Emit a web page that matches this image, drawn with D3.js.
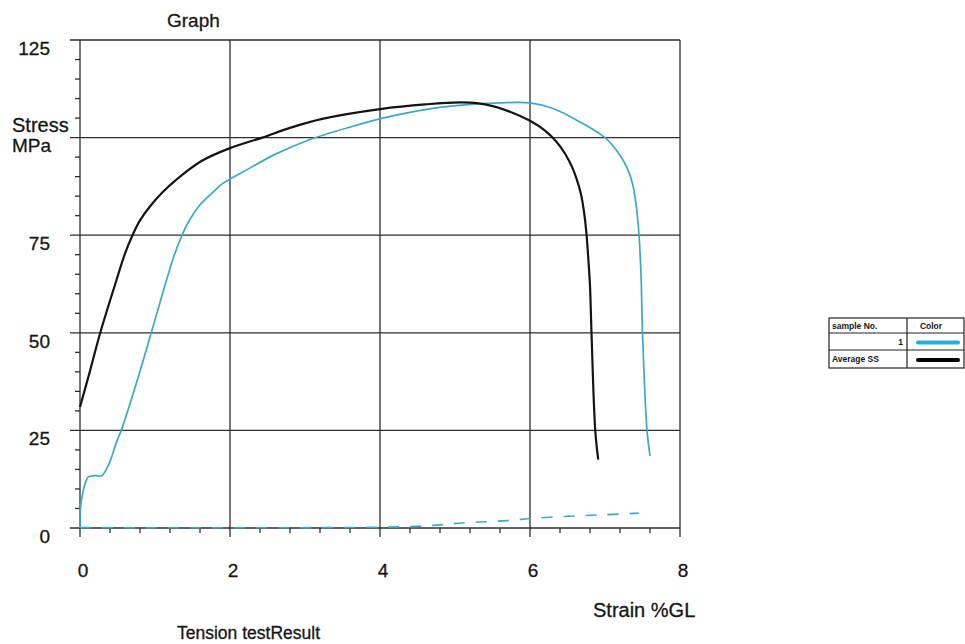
<!DOCTYPE html>
<html>
<head>
<meta charset="utf-8">
<script src="https://cdn.jsdelivr.net/npm/d3@7"></script>
<style>
  html, body { margin: 0; padding: 0; background: #fff; }
  svg { display: block; font-family: "Liberation Sans", Arial, sans-serif; }
</style>
</head>
<body>
<svg id="chart" width="965" height="644"></svg>
<script>
// Stress–strain curves (strain %GL, stress MPa)
const averageSS = [
  [0.00, 31], [0.13, 40], [0.27, 50], [0.47, 62.5], [0.60, 70.3], [0.70, 75],
  [0.80, 78.8], [0.93, 82.3], [1.10, 86], [1.27, 89], [1.62, 94], [2.00, 97.3],
  [2.43, 100], [2.80, 102.5], [3.23, 104.8], [4.00, 107.3], [4.60, 108.5],
  [5.10, 109], [5.40, 108.5], [5.75, 106.5], [6.00, 104.3], [6.20, 101.8],
  [6.35, 99], [6.47, 95.8], [6.56, 92.5], [6.62, 89.5], [6.68, 85.5], [6.72, 81],
  [6.75, 76], [6.77, 71], [6.80, 62], [6.82, 50], [6.87, 25], [6.91, 17.5]
];
const sample1 = [
  [0.00, 0], [0.005, 5], [0.045, 9.7], [0.08, 12], [0.11, 13.1], [0.20, 13.4],
  [0.29, 13.4], [0.35, 15], [0.40, 17], [0.49, 22.2], [0.55, 25], [0.75, 37],
  [0.95, 50], [1.13, 62], [1.25, 69.5], [1.35, 74.5], [1.45, 78.5], [1.58, 82.3],
  [1.75, 85.6], [1.90, 88.2], [2.20, 91.5], [2.60, 95.7], [3.05, 99.4],
  [3.60, 102.7], [4.11, 105.3], [4.82, 107.8], [5.60, 108.9], [6.00, 108.9],
  [6.30, 107.5], [6.60, 104.7], [7.00, 100], [7.20, 95.5], [7.30, 92],
  [7.37, 88], [7.42, 82], [7.45, 76], [7.48, 65], [7.50, 50], [7.56, 25], [7.60, 18.5]
];
const sample1Base = [
  [0.00, 0.1], [4.30, 0.3], [4.80, 0.8], [5.10, 1.3], [5.70, 1.9],
  [6.05, 2.5], [6.50, 3.0], [7.00, 3.4], [7.45, 3.8]
];

const xMajorTicks = [0, 2, 4, 6, 8];
const yMajorTicks = [0, 25, 50, 75, 100, 125];
const yTickLabels = ["0", "25", "50", "75", "", "125"];
const legendRows = [
  { name: "1", color: "#22aee0", align: "end" },
  { name: "Average SS", color: "#000000", align: "start" }
];

const svg = d3.select("#chart");
const x = d3.scaleLinear().domain([0, 8]).range([80, 680]);
const y = d3.scaleLinear().domain([0, 125]).range([528, 40]);

const gridColor = "#2e2e2e";
const textColor = "#161616";

// Major grid
const grid = svg.append("g").attr("stroke", gridColor).attr("stroke-width", 1.3);
grid.selectAll("line.h").data(yMajorTicks).join("line")
  .attr("x1", x(0) - 10).attr("x2", x(8))
  .attr("y1", d => y(d)).attr("y2", d => y(d));
grid.selectAll("line.v").data(xMajorTicks).join("line")
  .attr("x1", d => x(d)).attr("x2", d => x(d))
  .attr("y1", y(125)).attr("y2", y(0) + 9);

// Minor ticks
const yMinor = d3.range(0, 126, 5).filter(v => v % 25 !== 0);
const xMinor = d3.range(0, 8.01, 0.4).map(v => +v.toFixed(1)).filter(v => Math.abs(v / 2 - Math.round(v / 2)) > 1e-6);
grid.selectAll("line.ym").data(yMinor).join("line")
  .attr("x1", x(0) - 5).attr("x2", x(0))
  .attr("y1", d => y(d)).attr("y2", d => y(d));
grid.selectAll("line.xm").data(xMinor).join("line")
  .attr("x1", d => x(d)).attr("x2", d => x(d))
  .attr("y1", y(0)).attr("y2", y(0) + 5);

// Tick labels
svg.append("g").selectAll("text").data(yMajorTicks).join("text")
  .attr("x", x(0) - 30).attr("y", d => y(d) + 15)
  .attr("text-anchor", "end").attr("font-size", 19).attr("fill", textColor)
  .attr("stroke", textColor).attr("stroke-width", 0.3)
  .text((d, i) => yTickLabels[i]);
svg.append("g").selectAll("text").data(xMajorTicks).join("text")
  .attr("x", d => x(d) + 3).attr("y", y(0) + 49)
  .attr("text-anchor", "middle").attr("font-size", 19).attr("fill", textColor)
  .attr("stroke", textColor).attr("stroke-width", 0.3)
  .text(d => d);

// Curves (centripetal Catmull-Rom keeps the near-vertical tails smooth)
const line = d3.line().x(d => x(d[0])).y(d => y(d[1])).curve(d3.curveCatmullRom.alpha(0.5));
svg.append("path").datum(sample1Base)
  .attr("fill", "none").attr("stroke", "#3aa9c9").attr("stroke-width", 1.6)
  .attr("stroke-dasharray", "11,11").attr("d", line);
svg.append("path").datum(sample1)
  .attr("fill", "none").attr("stroke", "#3aa9c9").attr("stroke-width", 1.7).attr("d", line);
svg.append("path").datum(averageSS)
  .attr("fill", "none").attr("stroke", "#141414").attr("stroke-width", 2.2).attr("d", line);

// Titles
const titles = svg.append("g").attr("fill", textColor).attr("stroke", textColor).attr("stroke-width", 0.3);
titles.append("text").attr("x", 167).attr("y", 27).attr("font-size", 19).text("Graph");
titles.append("text").attr("x", 12).attr("y", 132).attr("font-size", 20).text("Stress");
titles.append("text").attr("x", 12).attr("y", 152).attr("font-size", 19).text("MPa");
titles.append("text").attr("x", 593).attr("y", 617).attr("font-size", 20).text("Strain %GL");
titles.append("text").attr("x", 177).attr("y", 639).attr("font-size", 17.5).text("Tension testResult");

// Legend table
const lg = svg.append("g").attr("transform", "translate(829,318)");
const tw = 135, colX = 78, rowY = [0, 15, 32, 50];
lg.append("rect").attr("width", tw).attr("height", rowY[3])
  .attr("fill", "#fff").attr("stroke", "#222").attr("stroke-width", 1.2);
lg.append("line").attr("x1", colX).attr("x2", colX).attr("y1", 0).attr("y2", rowY[3])
  .attr("stroke", "#222").attr("stroke-width", 1.2);
lg.selectAll("line.r").data(rowY.slice(1, 3)).join("line")
  .attr("x1", 0).attr("x2", tw).attr("y1", d => d).attr("y2", d => d)
  .attr("stroke", "#222").attr("stroke-width", 1);
lg.append("text").attr("x", 3).attr("y", 11).attr("font-size", 8.5).attr("font-weight", "bold")
  .attr("fill", textColor).text("sample No.");
lg.append("text").attr("x", colX + 24).attr("y", 11).attr("font-size", 8.5).attr("font-weight", "bold")
  .attr("text-anchor", "middle").attr("fill", textColor).text("Color");
lg.selectAll("text.n").data(legendRows).join("text")
  .attr("x", d => d.align === "end" ? colX - 4 : 3)
  .attr("y", (d, i) => rowY[i + 1] + 12)
  .attr("text-anchor", d => d.align).attr("font-size", 8.5).attr("font-weight", "bold")
  .attr("fill", textColor).text(d => d.name);
lg.selectAll("line.s").data(legendRows).join("line")
  .attr("x1", colX + 11).attr("x2", colX + 51)
  .attr("y1", (d, i) => (rowY[i + 1] + rowY[i + 2]) / 2 + 1)
  .attr("y2", (d, i) => (rowY[i + 1] + rowY[i + 2]) / 2 + 1)
  .attr("stroke", d => d.color).attr("stroke-width", 4).attr("stroke-linecap", "round");
</script>
</body>
</html>
